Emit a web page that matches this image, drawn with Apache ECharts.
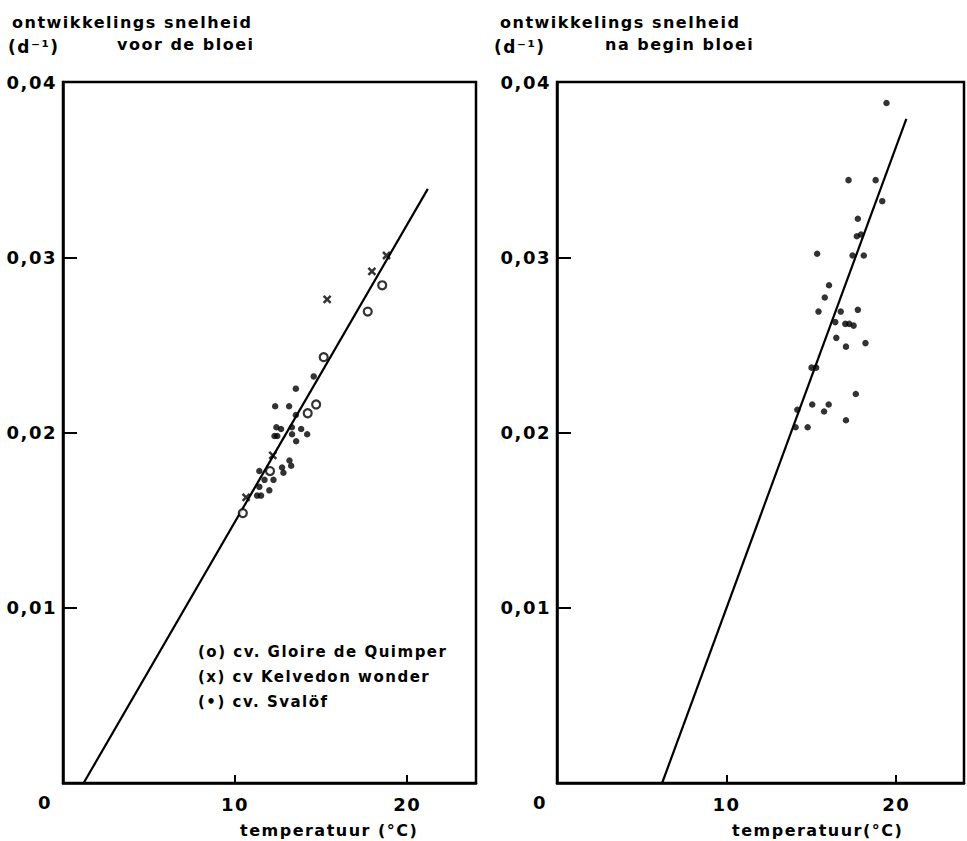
<!DOCTYPE html>
<html>
<head>
    <meta charset="utf-8">
    <script src="https://cdn.jsdelivr.net/npm/echarts@6/dist/echarts.min.js"></script>
    <style>
        html, body {margin: 0; padding: 0; background: #fff;}
        #main text {letter-spacing: 1.5px;}
    </style>
</head>
<body>
<div id="main" style="width: 967px;height:841px;"></div>
<script type="text/javascript">
    // assen
    var xMax = 24;
    var yMax = 0.04;
    var xTickStep = 10;
    var yTickStep = 0.01;

    // links: voor de bloei
    var leftCircle = [[18.55, 0.0284], [17.71, 0.0269], [15.15, 0.0243], [14.71, 0.0216], [14.22, 0.0211], [12.03, 0.0178], [10.45, 0.0154]];
    var leftCross = [[18.8, 0.0301], [17.95, 0.0292], [15.35, 0.0276], [12.19, 0.0187], [10.64, 0.0163]];
    var leftDot = [[14.57, 0.0232], [13.53, 0.0225], [12.33, 0.0215], [13.14, 0.0215], [13.53, 0.0210],
        [12.67, 0.0202], [12.4, 0.0203], [12.29, 0.0198], [12.45, 0.0198], [13.3, 0.0203], [13.84, 0.0202],
        [13.31, 0.0199], [14.19, 0.0199], [13.55, 0.0195], [13.16, 0.0184], [12.73, 0.0180], [13.26, 0.0181],
        [12.81, 0.0177], [11.41, 0.0178], [11.71, 0.0173], [12.23, 0.0173], [11.41, 0.0169], [11.51, 0.0164],
        [11.99, 0.0167], [11.28, 0.0164]];
    var leftFit = [[1.2, 0], [21.2, 0.0339]];

    // rechts: na begin bloei
    var rightDot = [[19.43, 0.0388], [17.19, 0.0344], [18.79, 0.0344], [19.18, 0.0332], [17.74, 0.0322],
        [17.68, 0.0312], [17.93, 0.0313], [15.34, 0.0302], [17.43, 0.0301], [18.09, 0.0301], [16.04, 0.0284],
        [15.79, 0.0277], [15.42, 0.0269], [16.73, 0.0269], [17.74, 0.0270], [16.41, 0.0263], [17.0, 0.0262],
        [17.23, 0.0262], [17.49, 0.0261], [16.47, 0.0254], [17.04, 0.0249], [18.19, 0.0251], [15.01, 0.0237],
        [15.28, 0.0237], [17.62, 0.0222], [15.05, 0.0216], [16.02, 0.0216], [14.17, 0.0213], [15.75, 0.0212],
        [17.04, 0.0207], [14.07, 0.0203], [14.78, 0.0203]];
    var rightFit = [[6.2, 0], [20.6, 0.0379]];

    var legendLines = ['(o) cv. Gloire de Quimper', '(x) cv Kelvedon wonder', '(•) cv. Svalöf'];

    var font = 'DejaVu Sans';
    var myChart = echarts.init(document.getElementById('main'), null, {renderer: 'svg'});

    function xAxisOpt(idx) {
        return {
            gridIndex: idx, type: 'value', min: 0, max: xMax, interval: xTickStep,
            axisLine: {show: true, lineStyle: {color: '#000', width: 2.5}},
            axisTick: {show: true, inside: true, length: 8, lineStyle: {color: '#000', width: 2}},
            axisLabel: {
                color: '#000', fontFamily: font, fontWeight: 'bold', fontSize: 18, margin: 12,
                formatter: function (v) { return (v === 0 || v === xMax) ? '' : String(v); }
            },
            splitLine: {show: false}
        };
    }

    function yAxisOpt(idx) {
        return {
            gridIndex: idx, type: 'value', min: 0, max: yMax, interval: yTickStep,
            axisLine: {show: true, lineStyle: {color: '#000', width: 2.5}},
            axisTick: {show: true, inside: true, length: 14, lineStyle: {color: '#000', width: 2}},
            axisLabel: {
                color: '#000', fontFamily: font, fontWeight: 'bold', fontSize: 18, margin: 6,
                formatter: function (v) { return v === 0 ? '' : v.toFixed(2).replace('.', ','); }
            },
            splitLine: {show: false}
        };
    }

    function txt(str, x, y, size, align) {
        return {
            type: 'text', x: x, y: y, silent: true,
            style: {text: str, fill: '#000', font: 'bold ' + size + 'px "' + font + '"', align: align || 'left', verticalAlign: 'middle'}
        };
    }

    var graphics = [
        txt('ontwikkelings snelheid', 12, 22, 16),
        txt('(d⁻¹)', 8, 47, 17),
        txt('voor de bloei', 117, 44, 16),
        txt('ontwikkelings snelheid', 500, 22, 16),
        txt('(d⁻¹)', 494, 47, 17),
        txt('na begin bloei', 605, 44, 16),
        txt('0', 45, 802, 18, 'center'),
        txt('0', 540, 802, 18, 'center'),
        txt('temperatuur (°C)', 240, 830, 16),
        txt('temperatuur(°C)', 732, 830, 16)
    ];
    legendLines.forEach(function (s, i) {
        graphics.push(txt(s, 198, 652 + i * 25, 15));
    });

    myChart.setOption({
        animation: false,
        backgroundColor: '#fff',
        grid: [
            {left: 63, top: 82, width: 413, height: 701, show: true, borderColor: '#000', borderWidth: 2.5, backgroundColor: 'transparent'},
            {left: 557, top: 82, width: 408, height: 701, show: true, borderColor: '#000', borderWidth: 2.5, backgroundColor: 'transparent'}
        ],
        xAxis: [xAxisOpt(0), xAxisOpt(1)],
        yAxis: [yAxisOpt(0), yAxisOpt(1)],
        graphic: graphics,
        series: [
            {
                name: 'fit links', type: 'line', xAxisIndex: 0, yAxisIndex: 0, data: leftFit,
                symbol: 'none', lineStyle: {color: '#000', width: 2.2}, z: 1
            },
            {
                name: 'Gloire de Quimper', type: 'scatter', xAxisIndex: 0, yAxisIndex: 0, data: leftCircle,
                symbol: 'circle', symbolSize: 8,
                itemStyle: {color: '#fff', borderColor: '#000', borderWidth: 2.2}, z: 3
            },
            {
                name: 'Kelvedon wonder', type: 'scatter', xAxisIndex: 0, yAxisIndex: 0, data: leftCross,
                symbol: 'path://M0,0L10,10M10,0L0,10', symbolSize: 7,
                itemStyle: {color: 'none', borderColor: '#000', borderWidth: 2.5}, z: 3
            },
            {
                name: 'Svalöf', type: 'scatter', xAxisIndex: 0, yAxisIndex: 0, data: leftDot,
                symbol: 'circle', symbolSize: 6.5, itemStyle: {color: '#000'}, z: 3
            },
            {
                name: 'fit rechts', type: 'line', xAxisIndex: 1, yAxisIndex: 1, data: rightFit,
                symbol: 'none', lineStyle: {color: '#000', width: 2.2}, z: 1
            },
            {
                name: 'na begin bloei', type: 'scatter', xAxisIndex: 1, yAxisIndex: 1, data: rightDot,
                symbol: 'circle', symbolSize: 6.5, itemStyle: {color: '#000'}, z: 3
            }
        ]
    });
</script>
</body>
</html>
